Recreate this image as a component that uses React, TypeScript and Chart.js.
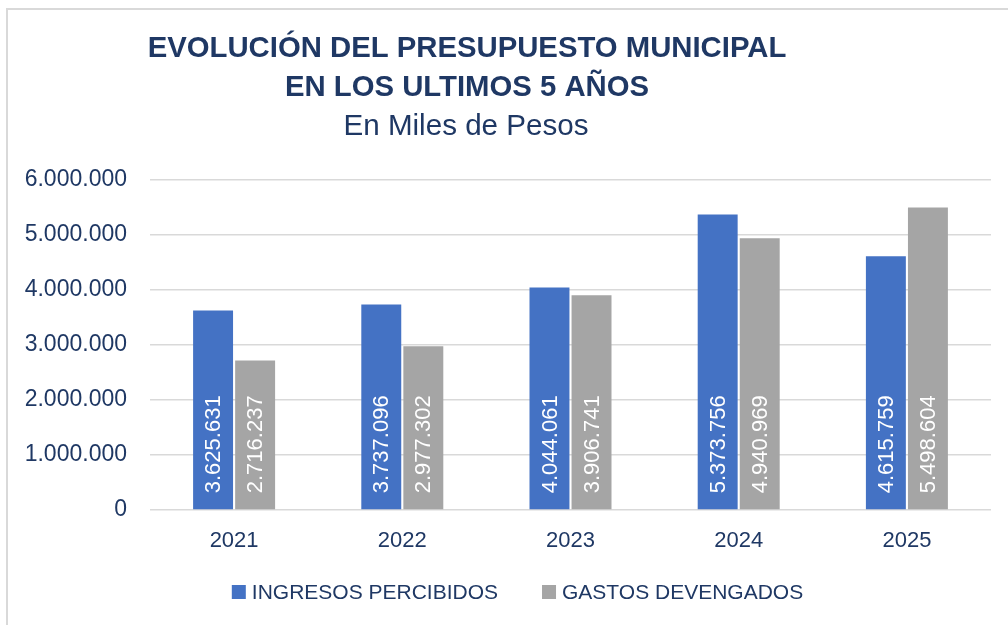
import React, { useEffect, useRef } from "react";
import { Chart, registerables } from "chart.js";

Chart.register(...registerables);

const categories = ["2021", "2022", "2023", "2024", "2025"];
const ingresos = [3625631, 3737096, 4044061, 5373756, 4615759];
const gastos = [2716237, 2977302, 3906741, 4940969, 5498604];
const seriesNames = ["INGRESOS PERCIBIDOS", "GASTOS DEVENGADOS"];
const titleLines = ["EVOLUCIÓN DEL PRESUPUESTO MUNICIPAL", "EN LOS ULTIMOS 5 AÑOS"];
const subtitleText = "En Miles de Pesos";

const BLUE = "#4472C4";
const GRAY = "#A5A5A5";
const NAVY = "#1F3864";
const FONT = "'Liberation Sans', Arial, sans-serif";

const fmt = (v: number) => Math.round(v).toString().replace(/\B(?=(\d{3})+(?!\d))/g, ".");

const decorPlugin = {
  id: "decor",
  afterDatasetsDraw(chart: any) {
    const ctx = chart.ctx;
    ctx.save();
    ctx.fillStyle = "#FFFFFF";
    ctx.font = `22px ${FONT}`;
    ctx.textAlign = "left";
    ctx.textBaseline = "middle";
    chart.data.datasets.forEach((ds: any, di: number) => {
      const meta = chart.getDatasetMeta(di);
      meta.data.forEach((bar: any, i: number) => {
        const base = bar.base;
        ctx.save();
        ctx.translate(bar.x + 1, base - 16);
        ctx.rotate(-Math.PI / 2);
        ctx.fillText(fmt(ds.data[i]), 0, 0);
        ctx.restore();
      });
    });
    ctx.restore();
  },
  afterDraw(chart: any) {
    const ctx = chart.ctx;
    ctx.save();
    ctx.fillStyle = NAVY;
    ctx.textAlign = "center";
    ctx.textBaseline = "alphabetic";
    ctx.font = `bold 29.3px ${FONT}`;
    ctx.fillText(titleLines[0], 467, 57);
    ctx.fillText(titleLines[1], 467, 96);
    ctx.font = `29.6px ${FONT}`;
    ctx.fillText(subtitleText, 466, 135);

    ctx.font = `21px ${FONT}`;
    const colors = [BLUE, GRAY];
    const box = 14;
    const gapText = 6;
    const gapItems = 44;
    const widths = seriesNames.map((n) => ctx.measureText(n).width);
    const total = widths.reduce((a, w) => a + box + gapText + w, 0) + gapItems;
    let x = 517.5 - total / 2;
    const cy = 592;
    ctx.textAlign = "left";
    ctx.textBaseline = "middle";
    seriesNames.forEach((n, i) => {
      ctx.fillStyle = colors[i];
      ctx.fillRect(x, cy - 7, box, box);
      ctx.fillStyle = NAVY;
      ctx.fillText(n, x + box + gapText, cy + 1);
      x += box + gapText + widths[i] + gapItems;
    });
    ctx.restore();
  },
};

export default function App() {
  const ref = useRef<HTMLCanvasElement | null>(null);
  useEffect(() => {
    if (!ref.current) return;
    const chart = new Chart(ref.current, {
      type: "bar",
      data: {
        labels: categories,
        datasets: [
          {
            label: seriesNames[0],
            data: ingresos,
            backgroundColor: BLUE,
            categoryPercentage: 0.5,
            barPercentage: 0.95,
          },
          {
            label: seriesNames[1],
            data: gastos,
            backgroundColor: GRAY,
            categoryPercentage: 0.5,
            barPercentage: 0.95,
          },
        ],
      },
      options: {
        animation: false,
        responsive: false,
        layout: { padding: { top: 180, right: 17, bottom: 0, left: 0 } },
        plugins: {
          legend: { display: false },
          title: { display: false },
          tooltip: { enabled: false },
        },
        scales: {
          x: {
            grid: { display: false, drawTicks: false },
            border: { display: false },
            ticks: { color: NAVY, font: { family: FONT, size: 22 }, padding: 18 },
            afterFit: (s: any) => {
              s.height = 115;
            },
          },
          y: {
            min: 0,
            max: 6000000,
            grid: { color: "#D9D9D9", lineWidth: 1.5, drawTicks: false },
            border: { display: false },
            ticks: {
              stepSize: 1000000,
              color: NAVY,
              font: { family: FONT, size: 23 },
              padding: 23,
              callback: (v: any) => fmt(Number(v)),
            },
            afterFit: (s: any) => {
              s.width = 150;
            },
          },
        },
      },
      plugins: [decorPlugin],
    });
    return () => chart.destroy();
  }, []);

  return (
    <div
      style={{
        position: "fixed",
        left: 0,
        top: 0,
        width: 1008,
        height: 625,
        background: "#FFFFFF",
        overflow: "hidden",
      }}
    >
      <div
        style={{
          position: "absolute",
          left: 6,
          top: 8,
          width: 1100,
          height: 800,
          border: "2px solid #D9D9D9",
          boxSizing: "border-box",
        }}
      />
      <canvas
        ref={ref}
        width={1008}
        height={625}
        style={{ position: "absolute", left: 0, top: 0, width: 1008, height: 625 }}
      />
    </div>
  );
}
